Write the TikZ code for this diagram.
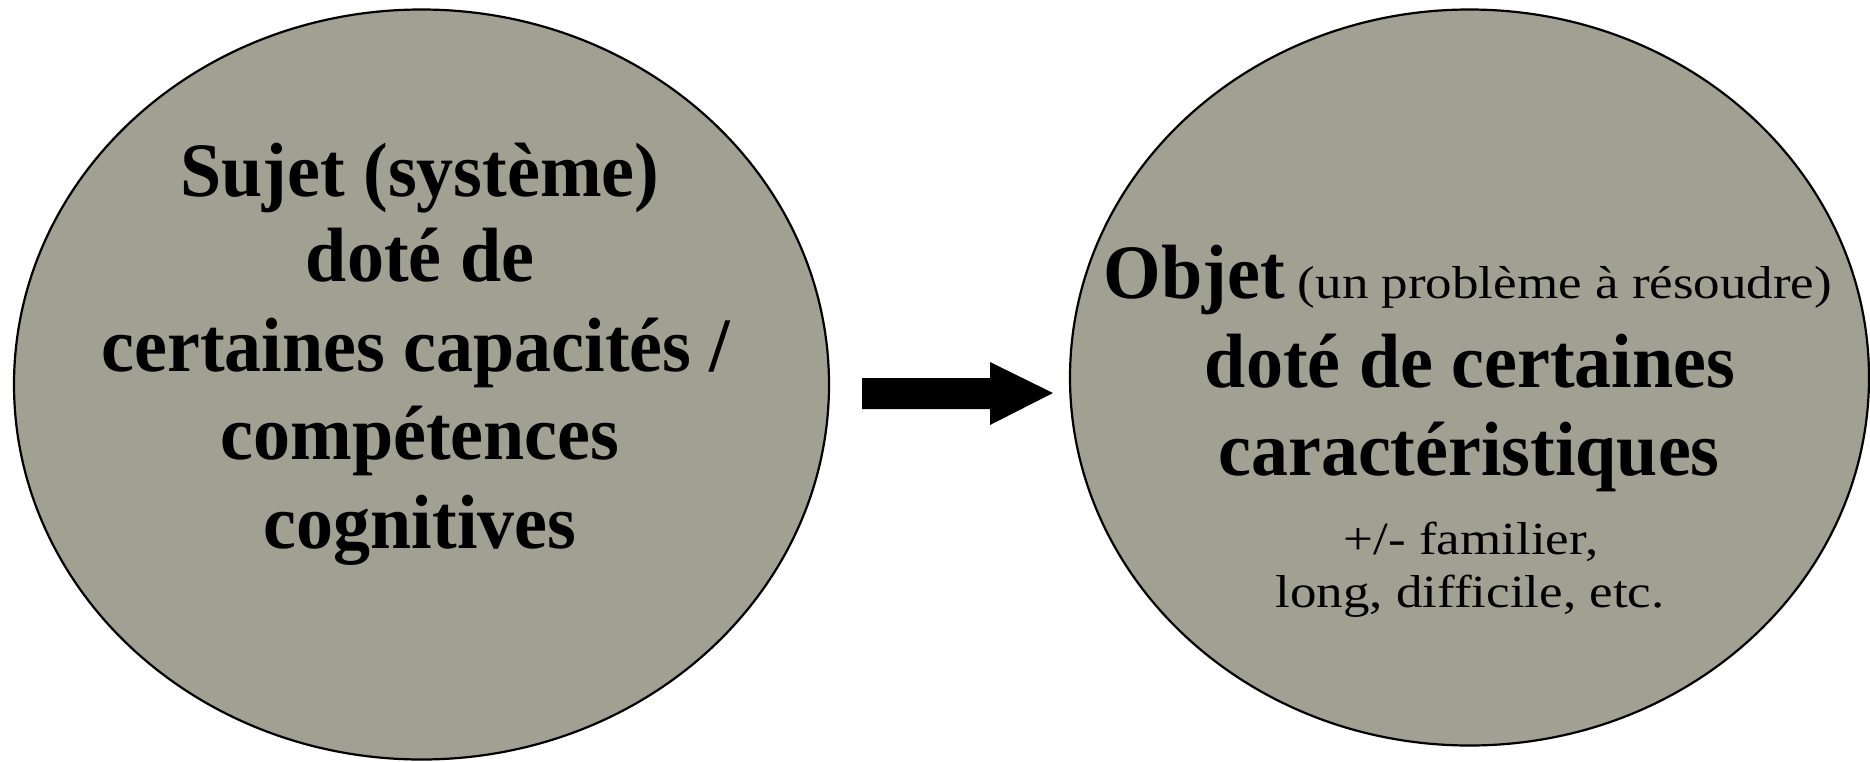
\documentclass[tikz,border=0pt]{standalone}
\usepackage{fontspec}
\setmainfont{Liberation Serif}
\usepackage{graphicx}
\usetikzlibrary{shapes.geometric}
\definecolor{blobfill}{RGB}{160,160,147}
\newcommand{\bigtxt}[1]{\scalebox{1}[1.04]{#1}}
\newcommand{\smalltxt}[1]{\scalebox{1}[0.87]{#1}}
\begin{document}
\begin{tikzpicture}[x=1pt,y=-1pt,
  blob/.style={ellipse, draw=black, line width=2.2pt, fill=blobfill, inner sep=0pt, outer sep=0pt},
  bigline/.style={anchor=base, inner sep=0pt, font=\fontsize{74}{88}\selectfont\bfseries},
  smallline/.style={anchor=base, inner sep=0pt, font=\fontsize{53}{60}\selectfont},
]
\useasboundingbox (0,0) rectangle (1870,761);
\node[blob, minimum width=815pt, minimum height=750pt] (e1) at (421.5,384.5) {};
\node[blob, minimum width=799pt, minimum height=736pt] (e2) at (1469.5,377.5) {};

% left text
\node[bigline] (l1) at (420,196) {\bigtxt{Sujet (système)}};
\node[bigline] (l2) at (420,281) {\bigtxt{doté de}};
\node[bigline] (l3) at (416,371) {\bigtxt{certaines capacités /}};
\node[bigline] (l4) at (420,459) {\bigtxt{compétences}};
\node[bigline] (l5) at (420,548) {\bigtxt{cognitives}};

% right text
\node[anchor=base, inner sep=0pt] (r1) at (1468,298) {\bigtxt{\fontsize{74}{88}\selectfont\bfseries Objet}\smalltxt{\fontsize{53}{60}\selectfont{} (un problème à résoudre)}};
\node[bigline] (r2) at (1470,387) {\bigtxt{doté de certaines}};
\node[bigline] (r3) at (1469,475) {\bigtxt{caractéristiques}};
\node[smallline] (r4) at (1471,554) {\smalltxt{+/- familier,}};
\node[smallline] (r5) at (1470,607) {\smalltxt{long, difficile, etc.}};

% block arrow between the two ellipses
\fill[black] (862,378) -- (990,378) -- (990,362) -- (1053,393) -- (990,425) -- (990,409) -- (862,409) -- cycle;
\end{tikzpicture}
\end{document}
